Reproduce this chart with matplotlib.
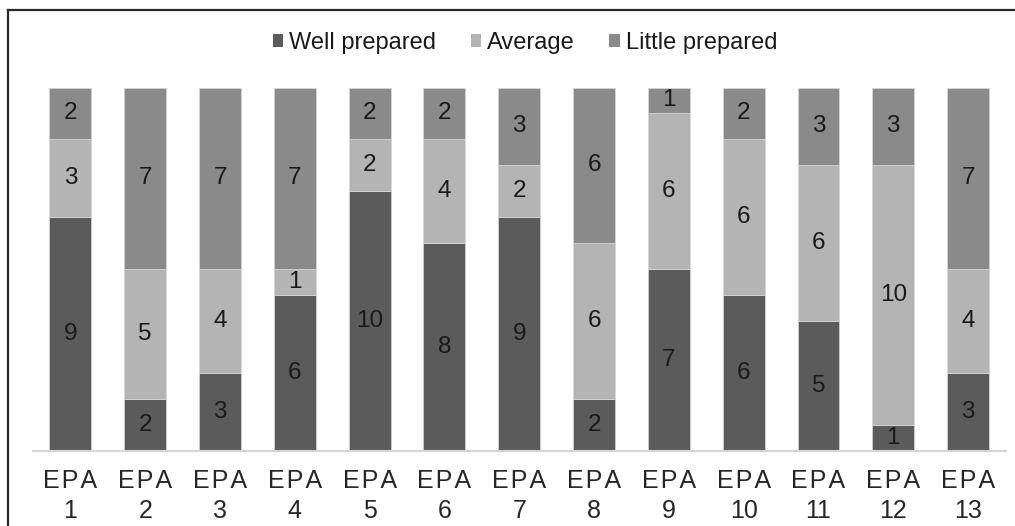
import matplotlib
matplotlib.use("Agg")
import matplotlib.pyplot as plt
from matplotlib.patches import Patch
from matplotlib.lines import Line2D
import numpy as np

plt.rcParams['font.family'] = ['Liberation Sans', 'DejaVu Sans']

categories = [f"EPA {i}" for i in range(1, 14)]
tick_labels = ["E\u200aP\u200aA\n" + str(i) for i in range(1, 14)]
well_prepared = [9, 2, 3, 6, 10, 8, 9, 2, 7, 6, 5, 1, 3]
average = [3, 5, 4, 1, 2, 4, 2, 6, 6, 6, 6, 10, 4]
little_prepared = [2, 7, 7, 7, 2, 2, 3, 6, 1, 2, 3, 3, 7]

series = [
    ("Well prepared", well_prepared, "#5b5b5b"),
    ("Average", average, "#b4b4b4"),
    ("Little prepared", little_prepared, "#8a8a8a"),
]

W, H = 1015, 526
fig = plt.figure(figsize=(W / 100, H / 100), dpi=100)
ax = fig.add_axes([33 / W, (H - 451) / H, (1005.5 - 33) / W, (451 - 87.5) / H])

x = np.arange(len(categories))
bottom = np.zeros(len(categories))
for name, vals, color in series:
    vals = np.array(vals, dtype=float)
    ax.bar(x, vals, width=0.56, bottom=bottom, color=color,
           edgecolor="#d8d8d8", linewidth=0.5, label=name, zorder=2)
    for xi, b, v in zip(x, bottom, vals):
        if v > 0:
            ax.text(xi, b + v / 2, f"{int(v)}", ha="center", va="center",
                    fontsize=17.5, color="#1a1a1a", zorder=3)
    bottom += vals

ax.set_xlim(-0.5, len(categories) - 0.5)
ax.set_ylim(0, 14)
ax.set_yticks([])
ax.set_xticks(x)
ax.set_xticklabels(tick_labels, fontsize=18, color="#262626", linespacing=1.3)
ax.tick_params(axis="x", length=0, pad=13)
for s in ["top", "right", "left"]:
    ax.spines[s].set_visible(False)
ax.spines["bottom"].set_color("#d4d4d4")
ax.spines["bottom"].set_linewidth(1.5)

handles = [Patch(facecolor=c, edgecolor="none") for _, _, c in series]
labels = [n for n, _, _ in series]
fig.legend(handles, labels, loc="center", bbox_to_anchor=(525 / W, 1 - 43 / H),
           ncol=3, frameon=False, fontsize=17, handlelength=0.45, handleheight=0.45,
           handletextpad=0.25, columnspacing=1.45, labelcolor="#1a1a1a")

# frame around the chart area
fig.add_artist(Line2D([8 / W, 8 / W], [0, 1 - 10 / H], transform=fig.transFigure,
                      color="#2a2a2a", linewidth=1.6))
fig.add_artist(Line2D([8 / W, 1], [1 - 10 / H, 1 - 10 / H], transform=fig.transFigure,
                      color="#2a2a2a", linewidth=1.6))

fig.savefig("out.png", dpi=100, facecolor="white")
